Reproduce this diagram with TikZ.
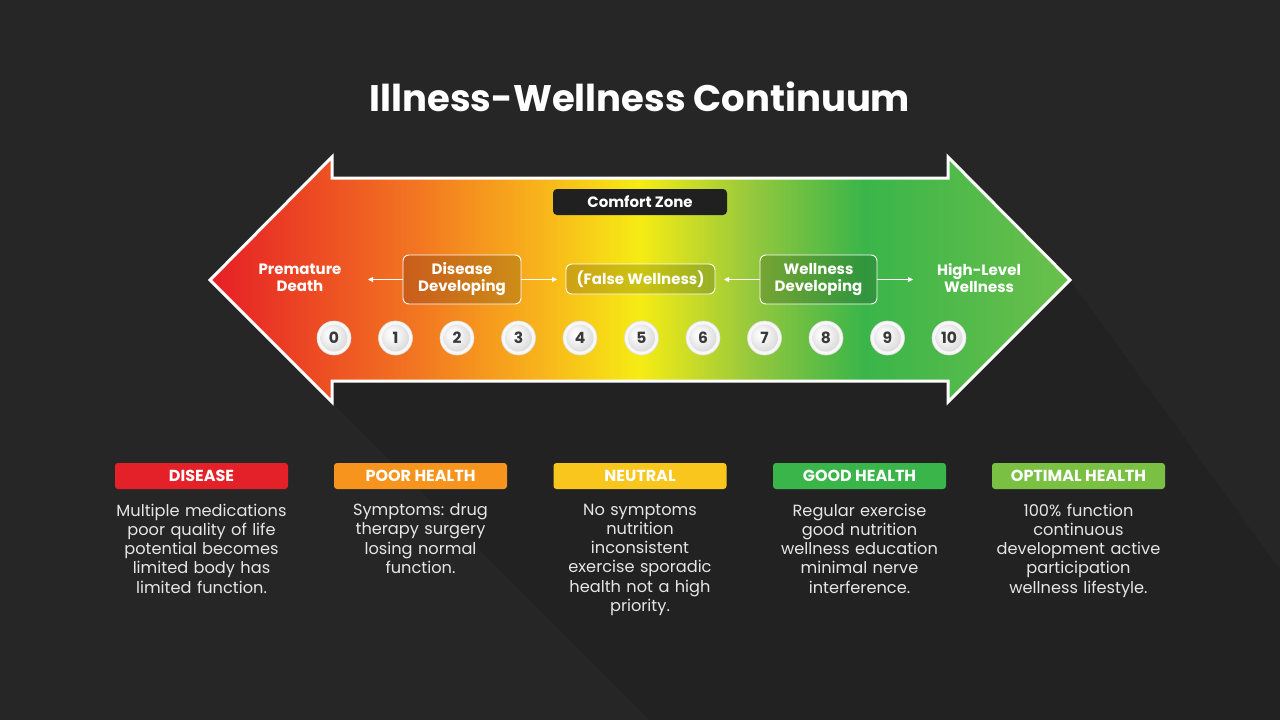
\documentclass[tikz,border=0pt]{standalone}
\usepackage{fontspec}
\setmainfont{Poppins}
\usetikzlibrary{arrows.meta}
\frenchspacing
\definecolor{bg}{HTML}{262626}
\definecolor{shadowc}{HTML}{222222}
\definecolor{cred}{HTML}{E42128}
\definecolor{corange}{HTML}{F7941D}
\definecolor{cyellow}{HTML}{F8C61C}
\definecolor{cgreen}{HTML}{39B54A}
\definecolor{clime}{HTML}{7AC143}
\definecolor{g1}{HTML}{E61E26}
\definecolor{g2}{HTML}{F37A21}
\definecolor{g3}{HTML}{F8B21B}
\definecolor{g4}{HTML}{F6EC14}
\definecolor{g5}{HTML}{95C83D}
\definecolor{g6}{HTML}{3AB54A}
\definecolor{g7}{HTML}{6BC04B}
\definecolor{numc}{HTML}{3A3A3A}
\definecolor{bodyc}{HTML}{E6E6E6}
\pgfdeclarehorizontalshading{arrowgrad}{100bp}{color(0bp)=(g1); color(25bp)=(g1); color(37.5bp)=(g2); color(44bp)=(g3); color(50bp)=(g4); color(56.5bp)=(g5); color(63bp)=(g6); color(75bp)=(g7); color(100bp)=(g7)}
\pgfdeclareradialshading{ballgrad}{\pgfpoint{-8bp}{8bp}}{color(0bp)=(white); color(12bp)=(white!92!gray); color(30bp)=(white!70!gray); color(50bp)=(white!60!gray)}
\tikzset{
  boxlabel/.style={font=\bfseries\fontsize{15}{17}\selectfont, text=white, align=center},
  innerbox/.style={draw=white, line width=0.9pt, rounded corners=6pt, fill=black, fill opacity=0.17, text opacity=1, boxlabel, inner sep=0pt},
  smallarrow/.style={white, line width=0.8pt, -{Triangle[length=5pt,width=5pt]}},
  ballring/.style={circle, fill=white!94!gray, draw=white!75!gray, line width=0.6pt, minimum size=34pt, inner sep=0pt},
  ballnum/.style={circle, shading=ballgrad, minimum size=27pt, inner sep=0pt, font=\bfseries\fontsize{15.5}{15}\selectfont, text=numc},
  tag/.style={rounded corners=3pt, minimum width=173pt, minimum height=26pt, inner sep=0pt, font=\bfseries\fontsize{16}{16}\selectfont, text=white},
  bodytext/.style={font=\fontsize{16.2}{19.3}\selectfont, text=bodyc, align=center, text width=205pt, inner sep=0pt, anchor=north}
}
\begin{document}
\begin{tikzpicture}[x=1pt,y=-1pt]
\fill[bg] (0,0) rectangle (1280,720);
\useasboundingbox (0,0) rectangle (1280,720);
% long shadow
\fill[shadowc] (332,381) -- (948,381) -- (1070,280) -- (1280,570) -- (1280,720) -- (650,720) -- (332,402) -- cycle;
% title
\node (title) at (640,97) {\bfseries\fontsize{37}{42}\selectfont\color{white}Illness-Wellness Continuum};
% big arrow
\path[shading=arrowgrad] (210,280) -- (332,157) -- (332,178) -- (948,178) -- (948,157) -- (1070,280) -- (948,402) -- (948,381) -- (332,381) -- (332,402) -- cycle;
\draw[white, line width=3pt, line join=miter] (210,280) -- (332,157) -- (332,178) -- (948,178) -- (948,157) -- (1070,280) -- (948,402) -- (948,381) -- (332,381) -- (332,402) -- cycle;
% comfort zone
\node[fill=bg!85!black, rounded corners=4pt, minimum width=174pt, minimum height=26pt, inner sep=0pt, font=\bfseries\fontsize{15}{15}\selectfont, text=white] (cz) at (640,202) {Comfort Zone};
% labels
\node[boxlabel] (pd) at (300,278) {Premature\\Death};
\node[boxlabel] (hl) at (979,278) {High-Level\\Wellness};
\node[innerbox, minimum width=118pt, minimum height=49pt] (dd) at (462,279.5) {Disease\\Developing};
\node[innerbox, minimum width=149pt, minimum height=30pt] (fw) at (640.5,279) {(False Wellness)};
\node[innerbox, minimum width=117pt, minimum height=49pt] (wd) at (818.5,279.5) {Wellness\\Developing};
\coordinate (a1) at (368,279.5);
\coordinate (a2) at (557,279.5);
\coordinate (a3) at (724,279.5);
\coordinate (a4) at (913,279.5);
\draw[smallarrow] (dd.west) -- (a1);
\draw[smallarrow] (dd.east) -- (a2);
\draw[smallarrow] (wd.west) -- (a3);
\draw[smallarrow] (wd.east) -- (a4);
% balls
\foreach \i in {0,...,10} {
  \pgfmathsetmacro{\bx}{334+61.5*\i}
  \node[ballring] (r\i) at (\bx,338) {};
  \node[ballnum] (b\i) at (\bx,338) {\i};
}
% bottom tags
\node[tag, fill=cred] (t1) at (201.5,476) {DISEASE};
\node[tag, fill=corange] (t2) at (420.5,476) {POOR HEALTH};
\node[tag, fill=cyellow] (t3) at (640,476) {NEUTRAL};
\node[tag, fill=cgreen] (t4) at (859.5,476) {GOOD HEALTH};
\node[tag, fill=clime] (t5) at (1078.5,476) {OPTIMAL HEALTH};
\node[bodytext] (d1) at (201.5,503.5) {Multiple medications\\poor quality of life\\potential becomes\\limited body has\\limited function.};
\node[bodytext] (d2) at (420.5,503.5) {Symptoms: drug\\therapy surgery\\losing normal\\function.};
\node[bodytext] (d3) at (640,503.5) {No symptoms\\nutrition\\inconsistent\\exercise sporadic\\health not a high\\priority.};
\node[bodytext] (d4) at (859.5,503.5) {Regular exercise\\good nutrition\\wellness education\\minimal nerve\\interference.};
\node[bodytext] (d5) at (1078.5,503.5) {100\% function\\continuous\\development active\\participation\\wellness lifestyle.};
\end{tikzpicture}
\end{document}
